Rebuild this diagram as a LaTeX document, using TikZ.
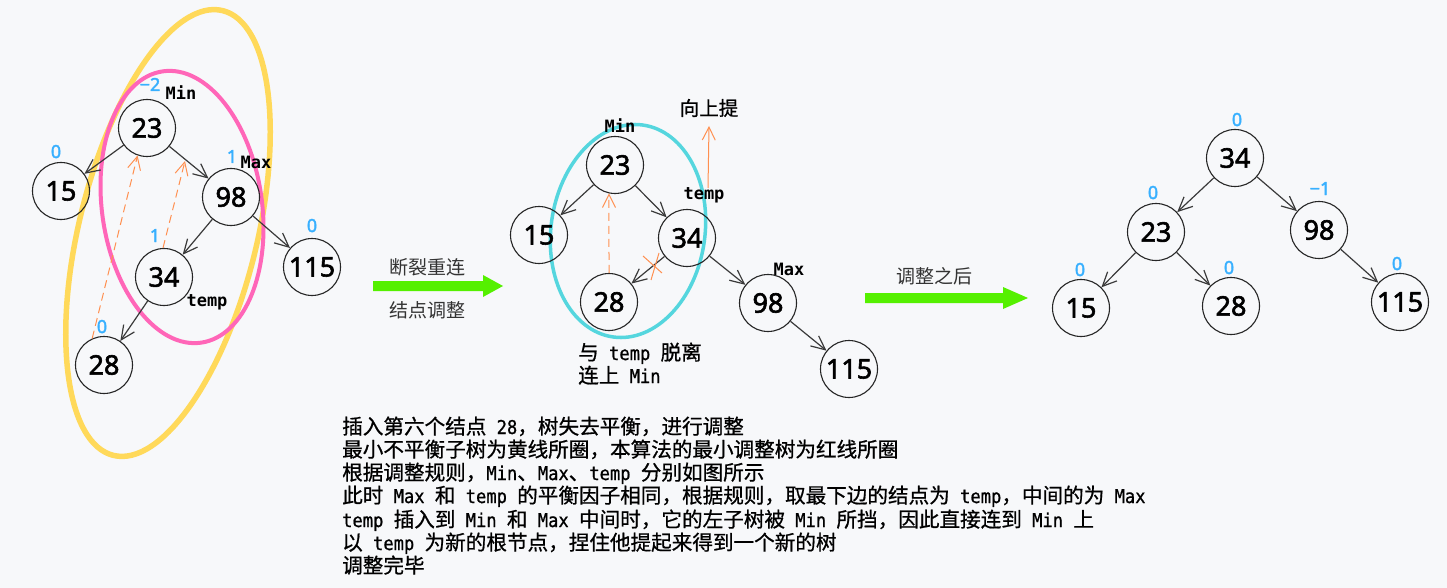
\documentclass[tikz,border=0pt]{standalone}
\usepackage{fontspec}
\usetikzlibrary{arrows.meta}
\newfontfamily\cjk{Noto Sans CJK SC}
\newfontfamily\cjkb{Noto Sans CJK SC}[FakeBold=0.8]
\newfontfamily\numf{Noto Sans}[FakeBold=2.2]
\newfontfamily\monof{DejaVu Sans Mono}
\newfontfamily\monob{DejaVu Sans Mono}[FakeBold=0.8,FakeStretch=0.9]
\newcommand\mo[1]{{\monob\fontsize{19}{20}\selectfont #1}}
\definecolor{bgc}{HTML}{F7F8FA}
\definecolor{yel}{HTML}{FFD95A}
\definecolor{pnk}{HTML}{FF66B8}
\definecolor{cyn}{HTML}{55D6DE}
\definecolor{org}{HTML}{FF9050}
\definecolor{blu}{HTML}{38B0FF}
\definecolor{grn}{HTML}{55F000}
\definecolor{edc}{HTML}{3A3A3A}
\tikzset{
  tn/.style={circle, draw=black!85, line width=1.1pt, minimum size=57pt, inner sep=0pt,
    font=\numf\fontsize{27}{27}\selectfont},
  ed/.style={draw=edc, line width=1.2pt, -{Straight Barb[length=14pt,width=13pt]}},
  od/.style={draw=org, line width=1pt, dash pattern=on 8pt off 5pt, -{Straight Barb[length=13pt,width=13pt]}},
  ou/.style={draw=org, line width=1pt, -{Straight Barb[length=13pt,width=13pt]}},
  bf/.style={text=blu, anchor=base, inner sep=0pt, font=\numf\fontsize{18}{18}\selectfont},
  tg/.style={anchor=base, inner sep=0pt, font=\monof\bfseries\fontsize{17}{17}\selectfont},
  cj/.style={anchor=base west, inner sep=0pt, font=\cjkb\fontsize{20.6}{23}\selectfont},
  gl/.style={inner sep=0pt, text=black!80, font=\cjk\fontsize{19}{19}\selectfont}
}
\begin{document}
\begin{tikzpicture}[x=1pt,y=-1pt]
\fill[bgc] (0,0) rectangle (1447,588);
\useasboundingbox (0,0) rectangle (1447,588);

% ellipses
\draw[yel, line width=5.5pt, rotate around={-13.8:(168,233)}] (168,233) ellipse [x radius=89pt, y radius=229pt];
\draw[pnk, line width=4pt, rotate around={8:(182,207)}] (182,207) ellipse [x radius=80pt, y radius=137pt];
\draw[cyn, line width=3.5pt, rotate around={-8:(628,231)}] (628,231) ellipse [x radius=77pt, y radius=107pt];

% left tree
\node[tn] (L23) at (147,128) {23};
\node[tn] (L15) at (61,191) {15};
\node[tn] (L98) at (231,197) {98};
\node[tn] (L115) at (312,267) {115};
\node[tn] (L34) at (164,277) {34};
\node[tn] (L28) at (104,365) {28};
\draw[ed] (L23) -- (L15);
\draw[ed] (L23) -- (L98);
\draw[ed] (L98) -- (L34);
\draw[ed] (L98) -- (L115);
\draw[ed] (L34) -- (L28);
\coordinate (lk) at (185,161);
\draw[od] (L28.114) -- (L23.251);
\draw[od] (L34.92) -- (lk);
\node[bf] (b1) at (150,91) {−2};
\node[bf] (b2) at (56,158) {0};
\node[bf] (b3) at (232,163) {1};
\node[bf] (b4) at (155,242) {1};
\node[bf] (b5) at (102,333) {0};
\node[bf] (b6) at (312,232) {0};
\node[tg] (g1) at (181,100) {Min};
\node[tg] (g2) at (256,169) {Max};
\node[tg] (g3) at (207,306) {temp};

% green arrow 1
\fill[grn] (373,281) -- (483,281) -- (483,275) -- (503,286) -- (483,297) -- (483,291) -- (373,291) -- cycle;
\node[gl] (a1) at (427,267) {断裂重连};
\node[gl] (a2) at (427,310) {结点调整};

% middle tree
\node[tn] (M23) at (615,165) {23};
\node[tn] (M15) at (539,235) {15};
\node[tn] (M34) at (687,238) {34};
\node[tn] (M28) at (609,302) {28};
\node[tn] (M98) at (768,303) {98};
\node[tn] (M115) at (849,369) {115};
\draw[ed] (M23) -- (M15);
\draw[ed] (M23) -- (M34);
\draw[ed] (M34) -- (M28);
\draw[ed] (M34) -- (M98);
\draw[ed] (M98) -- (M115);
\draw[od] (M28.north) -- (M23.258);
\coordinate (upA) at (708,188);
\coordinate (upB) at (709,126);
\draw[ou] (upA) -- (upB);
\draw[org, line width=1pt] (643,256) -- (662,273);
\draw[org, line width=1pt] (659,253) -- (651,280);
\node[tg] (g4) at (620,133) {Min};
\node[tg] (g5) at (704,200) {temp};
\node[tg] (g6) at (789,275) {Max};
\node[gl, text=black, font=\cjkb\fontsize{19.5}{19.5}\selectfont] (up) at (709,108) {向上提};
\node[cj] (c1) at (578,360) {与\mo{ temp }脱离};
\node[cj] (c2) at (578,383) {连上\mo{ Min}};

% green arrow 2
\fill[grn] (865,293) -- (1003,293) -- (1003,287) -- (1028,298) -- (1003,309) -- (1003,303) -- (865,303) -- cycle;
\node[gl] (a3) at (934,276) {调整之后};

% right tree
\node[tn] (R34) at (1235,158) {34};
\node[tn] (R23) at (1156,232) {23};
\node[tn] (R98) at (1319,230) {98};
\node[tn] (R15) at (1081,308) {15};
\node[tn] (R28) at (1231,306) {28};
\node[tn] (R115) at (1400,302) {115};
\draw[ed] (R34) -- (R23);
\draw[ed] (R34) -- (R98);
\draw[ed] (R23) -- (R15);
\draw[ed] (R23) -- (R28);
\draw[ed] (R98) -- (R115);
\node[bf] (r1) at (1237,126) {0};
\node[bf] (r2) at (1153,199) {0};
\node[bf] (r3) at (1320,195) {−1};
\node[bf] (r4) at (1080,276) {0};
\node[bf] (r5) at (1229,274) {0};
\node[bf] (r6) at (1397,270) {0};

% text block
\node[cj] (t1) at (342,434) {插入第六个结点\mo{ 28}，树失去平衡，进行调整};
\node[cj] (t2) at (342,457) {最小不平衡子树为黄线所圈，本算法的最小调整树为红线所圈};
\node[cj] (t3) at (342,480) {根据调整规则，\mo{Min}、\mo{Max}、\mo{temp }分别如图所示};
\node[cj] (t4) at (342,503) {此时\mo{ Max }和\mo{ temp }的平衡因子相同，根据规则，取最下边的结点为\mo{ temp}，中间的为\mo{ Max}};
\node[cj] (t5) at (342,527) {\mo{temp }插入到\mo{ Min }和\mo{ Max }中间时，它的左子树被\mo{ Min }所挡，因此直接连到\mo{ Min }上};
\node[cj] (t6) at (342,550) {以\mo{ temp }为新的根节点，捏住他提起来得到一个新的树};
\node[cj] (t7) at (342,573) {调整完毕};
\end{tikzpicture}
\end{document}
